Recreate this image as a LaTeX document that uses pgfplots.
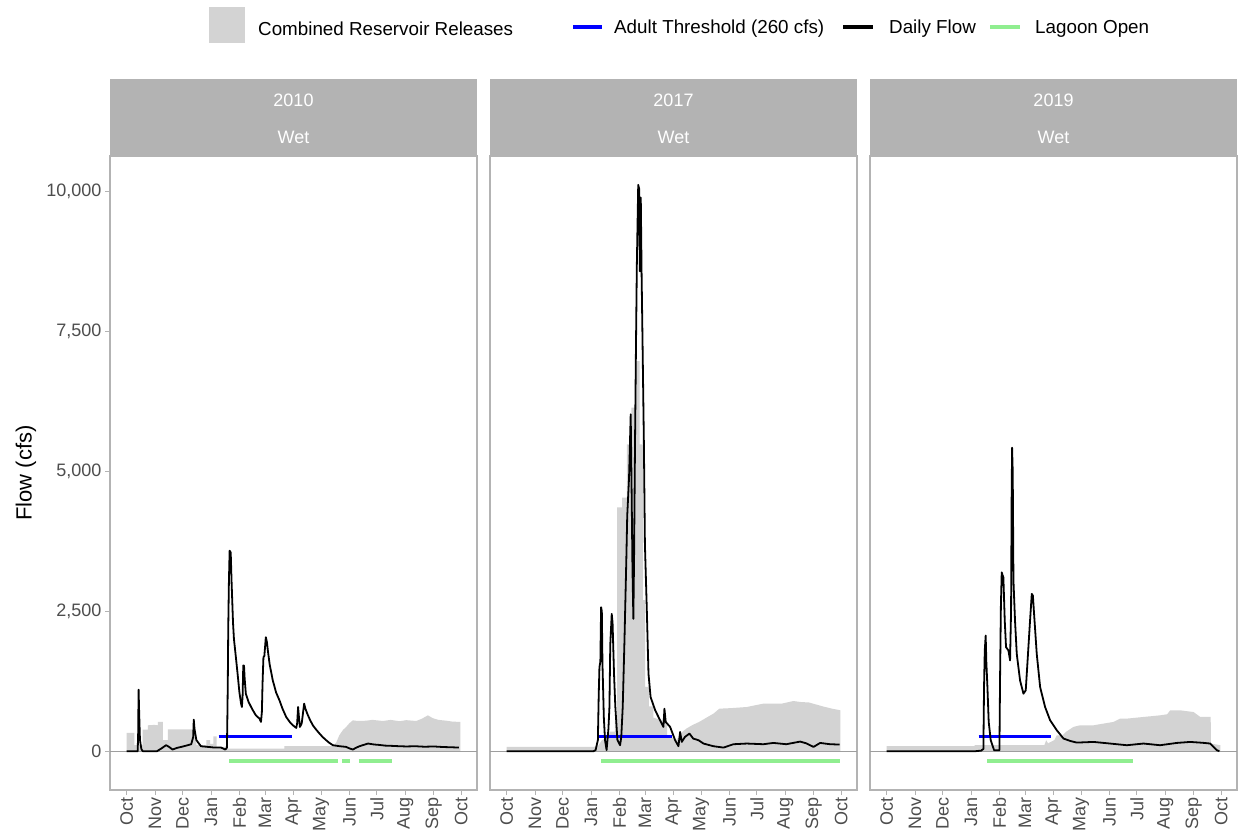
\documentclass[border=0pt]{standalone}
\usepackage{fontspec}
\setmainfont{Liberation Sans}
\usepackage{pgfplots}
\pgfplotsset{compat=1.18}

\definecolor{relgray}{HTML}{D3D3D3}
\definecolor{stripgray}{HTML}{B3B3B3}
\definecolor{framegray}{HTML}{B3B3B3}
\definecolor{ticktext}{HTML}{4D4D4D}
\definecolor{zerogray}{HTML}{9E9E9E}
\definecolor{lagoon}{HTML}{90EE90}

\newcommand\lbl{\fontsize{18}{21}\selectfont}
\newcommand\leg{\fontsize{18.8}{22}\selectfont}

% day 0 = 1 October of the water year
\pgfplotsset{
  facet/.style={
    scale only axis, width=367pt, height=634pt,
    xmin=-18.2, xmax=382.2, ymin=-693, ymax=10634,
    axis line style={framegray, line width=1.1pt},
    tick align=outside, major tick length=5pt,
    tick style={framegray, line width=0.9pt},
    xtick pos=lower, ytick pos=left,
    xtick={0,31,61,92,123,151,182,212,243,273,304,335,365},
    xticklabels={Oct,Nov,Dec,Jan,Feb,Mar,Apr,May,Jun,Jul,Aug,Sep,Oct},
    xticklabel style={rotate=90, anchor=east, font=\lbl, text=ticktext, inner sep=2pt},
    yticklabel style={font=\lbl, text=ticktext},
    /pgf/number format/assume math mode=true,
    anchor=south west, clip=true,
  },
  release/.style={fill=relgray, draw=none},
  flow/.style={black, line width=1.8pt, line join=round},
  thresh/.style={blue, line width=3.4pt},
  lagoonline/.style={lagoon, line width=3.4pt},
  zeroline/.style={zerogray, line width=0.9pt},
}

\begin{document}
\begin{tikzpicture}
\path[use as bounding box] (0,0) rectangle (1238pt,838pt);

% ---------------- 2010 ----------------
\begin{axis}[facet, name=p1, at={(110pt,48pt)},
  ytick={0,2500,5000,7500,10000},
  yticklabels={0,{2,500},{5,000},{7,500},{10,000}}]
\addplot[release] coordinates {
(0,0) (0,327) (8.4,327) (8.4,107) (17.5,107) (17.5,386) (23,386) (23,463) (30,470) (34,463)
(34,523) (39.5,523) (39.5,196) (45,196) (45,392) (72,392) (72,250) (76,250) (76,107) (87,107)
(87,196) (91,196) (91,130) (94.5,130) (94.5,267) (98,267) (98,77) (107,77) (107,48) (172,48)
(172,89) (225,89) (228.5,150) (232,285) (236,380) (239.5,434) (243,500) (246.8,552) (252,540)
(261.3,545) (268,560) (279.5,540) (288,560) (297.7,535) (305,555) (315.9,540) (322,580)
(328.6,641) (334,590) (340,560) (348.7,545) (355,530) (363.2,523) (364,523) (364,0)} \closedcycle;
\addplot[zeroline] coordinates {(-18.2,0) (382.2,0)};
\addplot[thresh] coordinates {(100.4,260) (180.6,260)};
\addplot[flow] coordinates {
(0,0) (12,0) (12.5,300) (13,1099) (13.6,700) (14.5,200) (16,40) (17.5,0) (33,0) (37,40)
(43,107) (46,80) (50,30) (55,60) (59.5,77) (65,100) (70.4,125) (72.5,250) (73.2,564) (74,400)
(76,200) (81,89) (90,75) (96,65) (103,65) (107.5,30) (109.3,60) (109.7,400) (110.3,1200)
(110.8,2186) (111.5,3000) (112.3,3582) (113.5,3550) (114.5,3000) (116,2300) (117,2008)
(119,1700) (121,1384) (123,1050) (124.8,850) (125.7,790) (126.5,1000) (127.2,1532) (128,1530)
(128.7,1300) (130,1028) (133,880) (137,750) (141,640) (144.9,582) (146.5,523) (147.5,700)
(148.2,1200) (149.2,1681) (150.2,1700) (151.8,2037) (153,1950) (154,1800) (156,1550)
(159.4,1265) (163,1050) (166.7,909) (170,760) (174,612) (178,520) (181.3,463) (185,416)
(186,500) (187,790) (188,600) (189,434) (191,500) (193.6,850) (195,760) (197,671) (200,560)
(203.1,463) (207,380) (210.4,315) (214,250) (217.7,196) (221,150) (225,107) (232,90)
(239.5,77) (243,50) (246.8,30) (250,60) (254,89) (258,110) (263.3,137) (270,120) (275,113)
(282,100) (290,95) (297.7,89) (305,85) (315,89) (325,80) (335,85) (345,75) (355,70) (362.5,65)};
\addplot[lagoonline] coordinates {(112,-178) (231,-178)};
\addplot[lagoonline] coordinates {(234.7,-178) (244,-178)};
\addplot[lagoonline] coordinates {(253,-178) (289,-178)};
\end{axis}

% ---------------- 2017 ----------------
\begin{axis}[facet, name=p2, at={(490pt,48pt)}, ytick=\empty]
\addplot[release] coordinates {
(0,0) (0,77) (95,77) (100,100) (104,200) (110,250) (113,350) (118,350) (118,552) (120.5,552)
(120.5,4355) (126,4355) (126,4530) (131,4530) (131,5484) (136,5484) (136,6137) (140,6137)
(140,6970) (145,6970) (145,5484) (148.5,5484) (148.5,2700) (151,2700) (151,1150) (155,1150)
(155,800) (160,800) (160,600) (170,550) (175,500) (175,250) (180,250) (185,200) (188,260)
(192,350) (196,404) (203,470) (210,523) (218,600) (225.6,671) (232,760) (245,770) (262,790)
(280,850) (300,850) (313,897) (320,880) (330,870) (345,800) (355,760) (364,731) (364,0)} \closedcycle;
\addplot[zeroline] coordinates {(-18.2,0) (382.2,0)};
\addplot[thresh] coordinates {(100.8,260) (180.1,260)};
\addplot[flow] coordinates {
(0,0) (94.6,0) (97,20) (99.5,200) (100.4,1000) (101.2,1503) (102.2,1600) (103,2572)
(103.8,2500) (104.5,1562) (106,600) (107.3,196) (109,20) (111,400) (112.1,790) (113,1900)
(114.6,2453) (115.5,2300) (117.1,1384) (118.5,800) (120.8,200) (123.7,107) (125,250)
(126.6,790) (128.5,1978) (130.5,3405) (131.5,4200) (133.5,4890) (135.3,6019) (136.2,4800)
(137.2,3300) (138.2,2364) (139,3500) (140,5500) (141,7148) (142,8693) (143.5,10119)
(144.5,10050) (145.3,8574) (146.3,9892) (147.2,8516) (148.2,7330) (149.7,5484) (150.8,3702)
(152.8,2572) (154.7,1384) (157,968) (162,731) (167.4,552) (171,434) (172.1,760) (173.5,523)
(178.3,434) (183.8,196) (187.4,89) (189.2,345) (191,166) (194.5,255) (199.4,315) (203.5,226)
(209.3,196) (214.7,137) (225.6,89) (236.5,65) (247.4,125) (262,137) (280,125) (291,148)
(305,125) (320.2,172) (327,140) (334.8,77) (342,148) (352.7,125) (363.2,119)};
\addplot[lagoonline] coordinates {(103,-178) (363.9,-178)};
\end{axis}

% ---------------- 2019 ----------------
\begin{axis}[facet, name=p3, at={(870pt,48pt)}, ytick=\empty]
\addplot[release] coordinates {
(0,0) (0,89) (96,89) (96,107) (172,107) (174,196) (176,140) (183,200) (185.6,285) (192,285)
(196,350) (203.7,434) (211,463) (225.6,463) (247.4,523) (254.7,582) (262,582) (280.2,612)
(298.3,641) (306,660) (309.3,731) (320,731) (334.8,700) (342.1,612) (353.5,612) (353.7,137)
(364,107) (364,0)} \closedcycle;
\addplot[zeroline] coordinates {(-18.2,0) (382.2,0)};
\addplot[thresh] coordinates {(100.4,260) (179,260)};
\addplot[flow] coordinates {
(0,0) (96.5,0) (103,10) (105.5,40) (106.2,1146) (107,1800) (108,2067) (108.7,1600)
(109.9,1146) (111.3,523) (113.5,196) (117.2,18) (123,18) (123.7,1325) (124.6,2600)
(125.5,3196) (126.3,3150) (127.3,3107) (128.8,2334) (130.2,1859) (132.8,1800) (134.6,1622)
(135.7,2513) (136.3,4500) (136.8,5423) (137.5,5000) (138.3,3047) (140,2334) (141.9,1740)
(145.5,1265) (149.2,1028) (151.7,1087) (153.5,1562) (156.4,2334) (158.3,2810) (159.5,2780)
(160.8,2453) (163.7,1740) (167.4,1146) (172.8,790) (178.3,552) (185.6,374) (192.9,226)
(200.1,184) (207.4,154) (225.6,166) (243.8,137) (262,107) (280.2,137) (298.3,107)
(316.5,148) (331.1,166) (345,150) (353,137) (356.6,77) (360.2,18) (363,0)};
\addplot[lagoonline] coordinates {(109.9,-178) (268.2,-178)};
\end{axis}

% facet strips
\foreach \p/\yr in {p1/2010, p2/2017, p3/2019} {
  \fill[stripgray] (\p.north west) rectangle ([yshift=77pt]\p.north east);
  \node[white, font=\lbl] at ([yshift=56pt]\p.north) {\yr};
  \node[white, font=\lbl] at ([yshift=19pt]\p.north) {Wet};
}

% y axis title
\node[rotate=90, font=\fontsize{22}{25}\selectfont] at (26pt,365pt) {Flow (cfs)};

% legend
\fill[relgray] (209pt,795pt) rectangle (245pt,831pt);
\node[anchor=west, inner sep=0pt, font=\leg] at (258pt,809pt) {Combined Reservoir Releases};
\draw[blue, line width=3.4pt] (573pt,811pt) -- (602pt,811pt);
\node[anchor=west, inner sep=0pt, font=\leg] at (614pt,809pt) {Adult Threshold (260 cfs)};
\draw[black, line width=3.4pt] (843pt,811pt) -- (873pt,811pt);
\node[anchor=west, inner sep=0pt, font=\leg] at (889pt,809pt) {Daily Flow};
\draw[lagoon, line width=3.4pt] (990pt,811pt) -- (1020pt,811pt);
\node[anchor=west, inner sep=0pt, font=\leg] at (1035pt,809pt) {Lagoon Open};
\end{tikzpicture}
\end{document}
